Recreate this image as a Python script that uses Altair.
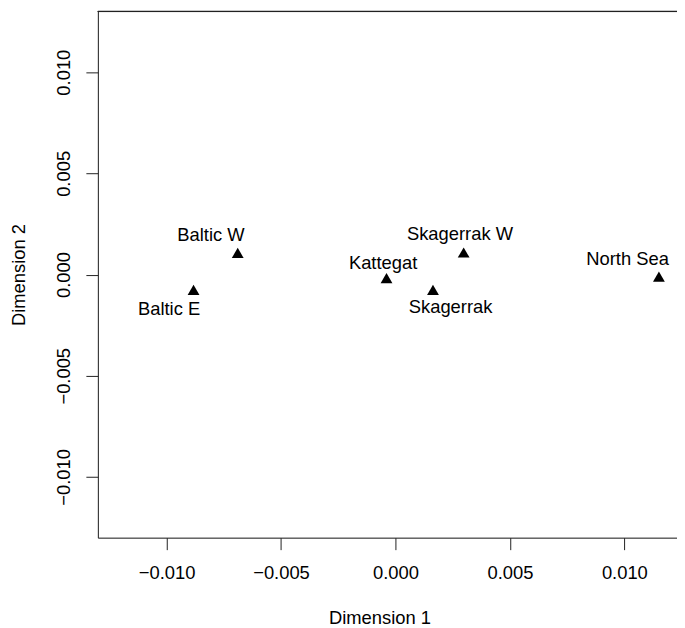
import altair as alt
import pandas as pd

# Site names and MDS coordinates
sites = ["Baltic W", "Baltic E", "Kattegat", "Skagerrak", "Skagerrak W", "North Sea"]
dim1 = [-0.00689, -0.00882, -0.00039, 0.00164, 0.00298, 0.01151]
dim2 = [0.00107, -0.00076, -0.00018, -0.00076, 0.00109, -0.00010]
# Label anchor positions in data units
label_x = [-0.00806, -0.00989, -0.00054, 0.00241, 0.00282, 0.01014]
label_y = [0.00193, -0.00169, 0.00058, -0.00158, 0.00202, 0.00078]

ticks = [-0.010, -0.005, 0.000, 0.005, 0.010]

df = pd.DataFrame({"site": sites, "d1": dim1, "d2": dim2, "lx": label_x, "ly": label_y})

W, H = 580, 527
FONT = "Liberation Sans"
FS = 18.4
LINE = "#222222"

xscale = alt.Scale(domain=[-0.013, 0.0123], nice=False, zero=False)
yscale = alt.Scale(domain=[-0.013, 0.013], nice=False, zero=False)

xaxis = alt.Axis(values=ticks, format=".3f", title="Dimension 1", grid=False,
                 tickSize=12, tickColor=LINE, domainColor=LINE, labelPadding=14,
                 labelFontSize=FS, labelFont=FONT, labelColor="black",
                 titleFontSize=FS, titleFont=FONT, titleFontWeight="normal", titleColor="black",
                 titleX=W / 2 - 8, titleY=80, titleBaseline="middle", titleAnchor="middle")
yaxis = alt.Axis(values=ticks, format=".3f", title="Dimension 2", grid=False,
                 tickSize=12, tickColor=LINE, domainColor=LINE, labelPadding=22,
                 labelAngle=270, labelAlign="center", labelBaseline="middle",
                 labelFontSize=FS, labelFont=FONT, labelColor="black",
                 titleFontSize=FS, titleFont=FONT, titleFontWeight="normal", titleColor="black",
                 titleX=-79, titleY=H / 2, titleAngle=270, titleBaseline="middle",
                 titleAlign="center")

base = alt.Chart(df)

points = base.mark_point(shape="triangle-up", filled=True, color="black", opacity=1, size=140).encode(
    x=alt.X("d1:Q", scale=xscale, axis=xaxis),
    y=alt.Y("d2:Q", scale=yscale, axis=yaxis),
)

labels = base.mark_text(font=FONT, fontSize=FS, color="black", align="center", baseline="middle").encode(
    x=alt.X("lx:Q", scale=xscale),
    y=alt.Y("ly:Q", scale=yscale),
    text="site:N",
)

top_rule = base.mark_rule(color=LINE, strokeWidth=1).encode(
    x=alt.value(0), x2=alt.value(W), y=alt.value(0)
)

chart = alt.layer(top_rule, points, labels).properties(
    width=W, height=H,
    autosize=alt.AutoSizeParams(type="none"),
    padding={"left": 90, "top": 3, "right": 0, "bottom": 90},
).configure_view(stroke=None).configure(background="white")

chart.save("out.html", embed_options={"renderer": "svg", "actions": False})
